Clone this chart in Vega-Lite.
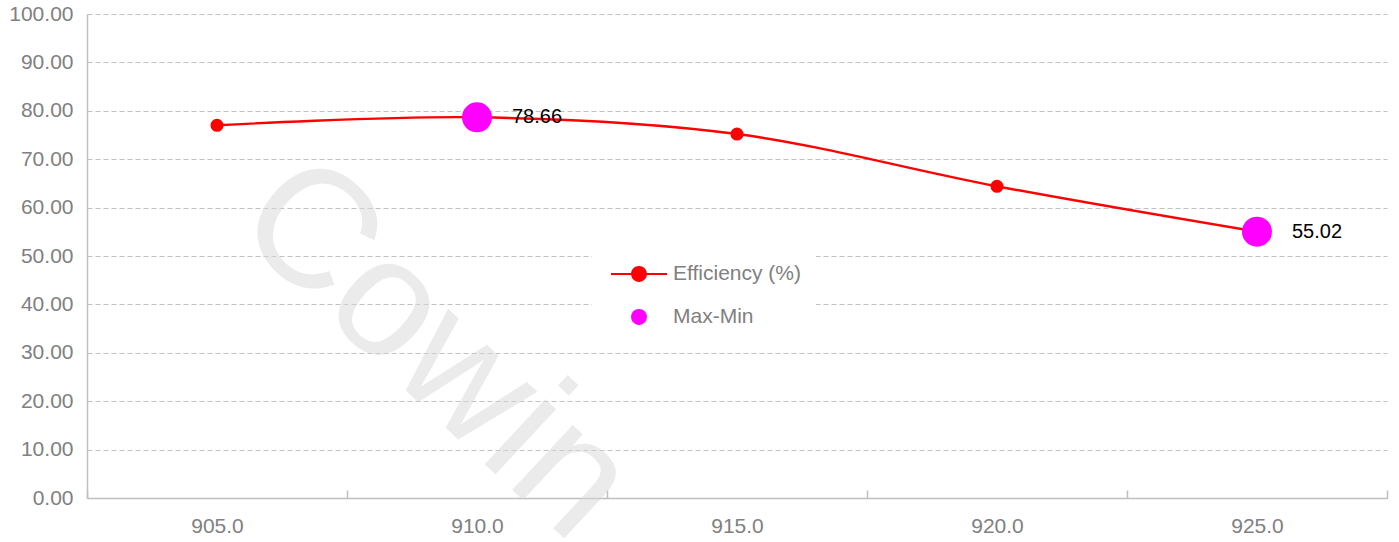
{
  "$schema": "https://vega.github.io/schema/vega-lite/v6.json",
  "width": 1300,
  "height": 484,
  "autosize": {"type": "none"},
  "padding": {"left": 87, "top": 14, "right": 12, "bottom": 44},
  "background": "white",
  "config": {"view": {"stroke": null}, "font": "Liberation Sans"},
  "data": {"values": [
    {"freq": 905, "value": 77.0, "series": "Efficiency (%)"},
    {"freq": 910, "value": 78.66, "series": "Efficiency (%)"},
    {"freq": 915, "value": 75.2, "series": "Efficiency (%)"},
    {"freq": 920, "value": 64.4, "series": "Efficiency (%)"},
    {"freq": 925, "value": 55.02, "series": "Efficiency (%)"},
    {"freq": 910, "value": 78.66, "series": "Max-Min"},
    {"freq": 925, "value": 55.02, "series": "Max-Min"}
  ]},
  "layer": [
    {
      "mark": {"type": "text", "angle": 43, "fontSize": 168, "font": "Liberation Sans", "fill": "#d8d8d8", "fillOpacity": 0.5, "align": "center", "baseline": "middle"},
      "encoding": {
        "x": {"datum": 909.2, "type": "quantitative", "title": null},
        "y": {"datum": 30.6, "type": "quantitative", "title": null},
        "text": {"value": "Cowin"}
      },
      "transform": [{"filter": "datum.series === 'Max-Min' && datum.freq === 910"}]
    },
    {
      "encoding": {
        "x": {
          "field": "freq", "type": "quantitative", "title": null,
          "scale": {"domain": [902.5, 927.5], "nice": false, "zero": false},
          "axis": {
            "title": null,
            "values": [902.5, 905, 907.5, 910, 912.5, 915, 917.5, 920, 922.5, 925, 927.5],
            "labelExpr": "datum.value % 5 === 0 ? format(datum.value, '.1f') : ''",
            "tickOpacity": {"condition": {"test": "datum.value % 5 === 0", "value": 0}, "value": 1},
            "tickSize": -8,
            "tickColor": "#bfbfbf",
            "tickWidth": 1.5,
            "domainColor": "#bfbfbf",
            "domainWidth": 1.5,
            "labelFontSize": 21,
            "labelColor": "#808080",
            "labelPadding": 25,
            "labelOverlap": false,
            "labelFlush": false,
            "labelBound": false,
            "grid": false
          }
        },
        "y": {
          "field": "value", "type": "quantitative", "title": null,
          "scale": {"domain": [0, 100], "nice": false},
          "axis": {
            "title": null,
            "values": [0, 10, 20, 30, 40, 50, 60, 70, 80, 90, 100],
            "format": ".2f",
            "ticks": false,
            "domainColor": "#bfbfbf",
            "domainWidth": 1.5,
            "grid": true,
            "gridColor": "#c0c0c0",
            "gridDash": [5, 3],
            "gridWidth": 1,
            "labelFontSize": 21,
            "labelColor": "#808080",
            "labelPadding": 14,
            "labelOverlap": false,
            "labelFlush": false
          }
        }
      },
      "layer": [
        {
          "transform": [{"filter": "datum.series === 'Efficiency (%)'"}],
          "mark": {"type": "line", "color": "#ff0000", "strokeWidth": 2.4, "interpolate": "cardinal"}
        },
        {
          "transform": [{"filter": "datum.series === 'Efficiency (%)'"}],
          "mark": {"type": "circle", "color": "#ff0000", "size": 170, "opacity": 1}
        },
        {
          "transform": [{"filter": "datum.series === 'Max-Min'"}],
          "mark": {"type": "circle", "color": "#ff00ff", "size": 900, "opacity": 1}
        },
        {
          "transform": [{"filter": "datum.series === 'Max-Min'"}],
          "mark": {"type": "text", "align": "left", "baseline": "middle", "dx": 35, "fontSize": 20, "color": "#000000", "font": "Liberation Sans"},
          "encoding": {"text": {"field": "value", "type": "quantitative", "format": ".2f"}}
        },
        {
          "mark": {"type": "point", "filled": true, "opacity": 0},
          "encoding": {
            "color": {
              "field": "series", "type": "nominal", "title": null,
              "scale": {"domain": ["Efficiency (%)", "Max-Min"], "range": ["#ff0000", "#ff00ff"]},
              "legend": {"title": null, "orient": "none", "legendX": 505, "legendY": 230, "symbolSize": 900, "symbolStrokeWidth": 0, "symbolOpacity": 1, "labelFontSize": 21, "labelColor": "#808080", "labelFont": "Liberation Sans", "labelOffset": 36, "rowPadding": 18, "padding": 15, "fillColor": "white", "labelLimit": 300}
            },
            "shape": {
              "field": "series", "type": "nominal", "title": null,
              "scale": {"domain": ["Efficiency (%)", "Max-Min"], "range": ["M-0.733,-0.07 L3,-0.07 L3,0.07 L-0.733,0.07 Z M0.603,0 A0.53,0.53 0 1,1 1.663,0 A0.53,0.53 0 1,1 0.603,0 Z", "M0.603,0 A0.53,0.53 0 1,1 1.663,0 A0.53,0.53 0 1,1 0.603,0 Z"]},
              "legend": {"title": null, "orient": "none", "legendX": 505, "legendY": 230, "symbolSize": 900, "symbolStrokeWidth": 0, "symbolOpacity": 1, "labelFontSize": 21, "labelColor": "#808080", "labelFont": "Liberation Sans", "labelOffset": 36, "rowPadding": 18, "padding": 15, "fillColor": "white", "labelLimit": 300}
            }
          }
        }
      ]
    }
  ]
}
